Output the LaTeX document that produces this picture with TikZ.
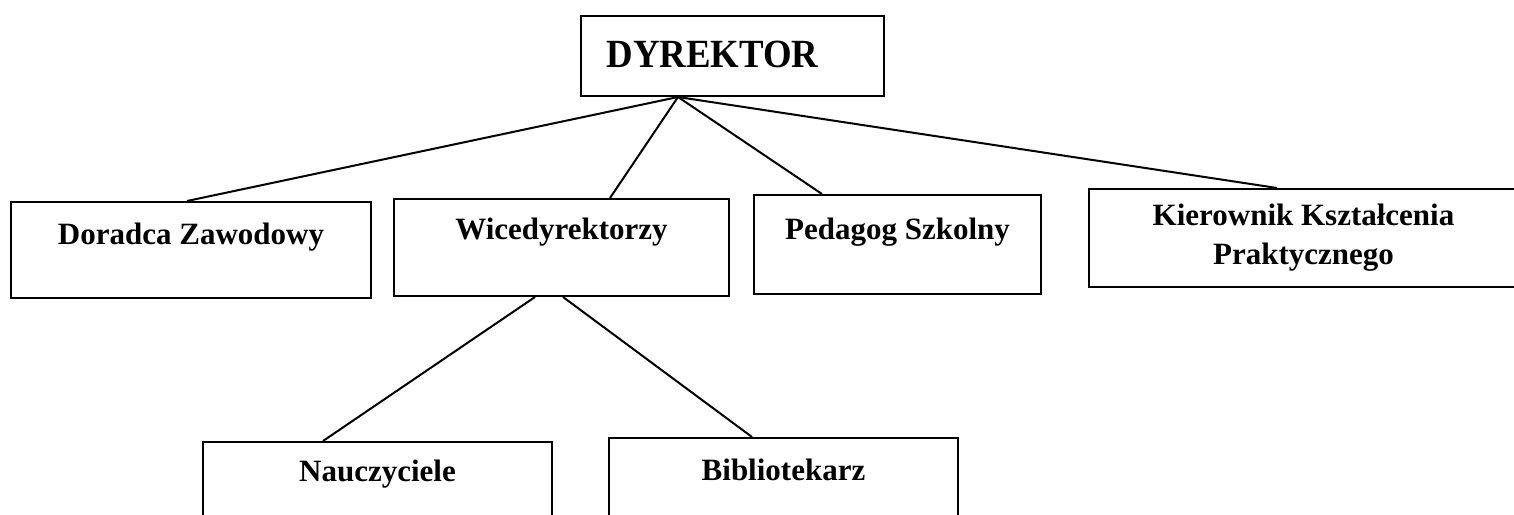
\documentclass[tikz,border=0pt]{standalone}
\usepackage{fontspec}
\setmainfont{Liberation Serif}
\newfontfamily\headfont{Liberation Serif}[FakeStretch=0.92]
\usetikzlibrary{positioning}

\tikzset{
  unit/.style={draw, line width=2pt, inner sep=0pt, anchor=north west,
               align=center, font=\fontsize{31}{39}\selectfont\bfseries},
  link/.style={line width=2pt},
}

\begin{document}
\begin{tikzpicture}[x=1pt,y=-1pt]
  \useasboundingbox (0,0) rectangle (1514,514);

  % top of the chart
  \node[unit, minimum width=303, text height=51, text depth=29,
        font=\headfont\fontsize{40}{46}\selectfont\bfseries] (dyr) at (580,15) {DYREKTOR\hspace{40pt}};

  % second level
  \node[unit, minimum width=360, text height=42, text depth=54] (dor) at (10,201) {Doradca Zawodowy};
  \node[unit, minimum width=335, text height=40, text depth=57] (wic) at (393,198) {Wicedyrektorzy};
  \node[unit, minimum width=287, text height=44, text depth=55] (ped) at (753,194) {Pedagog Szkolny};
  \node[unit, minimum width=429, text height=75, text depth=23] (kie) at (1088,188)
       {Kierownik Kształcenia\\Praktycznego};

  % third level
  \node[unit, minimum width=349, text height=39, text depth=50] (nau) at (202,441) {Nauczyciele};
  \node[unit, minimum width=349, text height=42, text depth=51] (bib) at (608,437) {Bibliotekarz};

  \coordinate (apex) at ([xshift=98pt]dyr.south west);
  \draw[link] (apex) -- ([xshift=177pt]dor.north west);
  \draw[link] (apex) -- ([xshift=217pt]wic.north west);
  \draw[link] (apex) -- ([xshift=69pt]ped.north west);
  \draw[link] (apex) -- ([xshift=189pt]kie.north west);

  \draw[link] ([xshift=142pt]wic.south west) -- ([xshift=121pt]nau.north west);
  \draw[link] ([xshift=170pt]wic.south west) -- ([xshift=144pt]bib.north west);
\end{tikzpicture}
\end{document}
